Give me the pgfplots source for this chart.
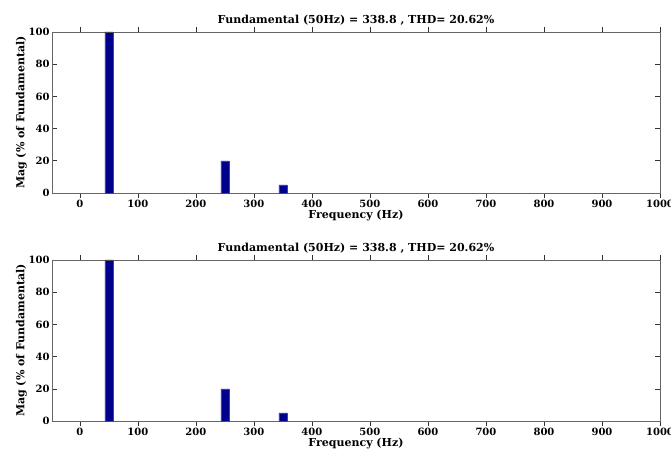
\documentclass[border=0pt]{standalone}
\usepackage{pgfplots}
\pgfplotsset{compat=1.18}
\usepackage{fontspec}
\setmainfont{DejaVu Serif}
\definecolor{barblue}{rgb}{0,0,0.55}
\pgfplotsset{
  harm/.style={
    at={(0,0)}, anchor=south west,
    scale only axis, width=608pt, height=161pt,
    xmin=-48, xmax=1000, ymin=0, ymax=100,
    xtick={0,100,...,1000}, ytick={0,20,...,100},
    tick align=inside, major tick length=5pt,
    tick style={black!80, line width=0.6pt},
    axis line style={black!60, line width=0.8pt},
    tick label style={font=\fontsize{10}{11}\selectfont\bfseries},
    /pgf/number format/assume math mode=true,
    /pgf/number format/1000 sep={},
    xlabel={Frequency (Hz)}, ylabel={Mag (\% of Fundamental)},
    label style={font=\fontsize{11}{12}\selectfont\bfseries},
    title style={font=\fontsize{11}{12}\selectfont\bfseries, yshift=-3pt},
    title={Fundamental (50Hz) = 338.8 , THD= 20.62\%},
    xlabel style={yshift=5pt},
    ylabel style={yshift=-5pt},
    xticklabel style={yshift=1pt},
    yticklabel style={xshift=1pt},
    ybar, bar width=14, bar shift=0pt,
    clip=false,
  }
}
\begin{document}
\begin{tikzpicture}[x=1pt,y=1pt]
\useasboundingbox (0,0) rectangle (671,450);
\begin{scope}[shift={(52,257)}]
\begin{axis}[harm]
\addplot[fill=barblue, draw=black!70, line width=0.5pt] coordinates {(50,100) (250,20) (350,5)};
\end{axis}
\end{scope}
\begin{scope}[shift={(52,29)}]
\begin{axis}[harm]
\addplot[fill=barblue, draw=black!70, line width=0.5pt] coordinates {(50,100) (250,20) (350,5)};
\end{axis}
\end{scope}
\end{tikzpicture}
\end{document}
